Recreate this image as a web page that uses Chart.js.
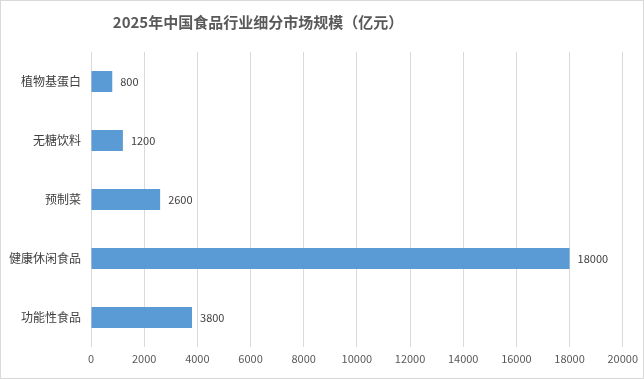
<!DOCTYPE html>
<html><head><meta charset="utf-8">
<script src="https://cdn.jsdelivr.net/npm/chart.js@4/dist/chart.umd.min.js"></script>
<style>
html,body{margin:0;padding:0;background:#fff;}
#wrap{position:absolute;left:0;top:0;width:644px;height:379px;box-sizing:border-box;border:1px solid #d9d9d9;background:#fff;}
#box{position:absolute;left:0;top:0;width:642px;height:377px;}
</style></head>
<body>
<div id="wrap"><div id="box"><canvas id="c"></canvas></div></div>
<script>
const categories = ['植物基蛋白', '无糖饮料', '预制菜', '健康休闲食品', '功能性食品'];
const values = [800, 1200, 2600, 18000, 3800];
const xTicks = [0, 2000, 4000, 6000, 8000, 10000, 12000, 14000, 16000, 18000, 20000];
const titleText = '2025年中国食品行业细分市场规模（亿元）';

const FONT = "'Noto Sans CJK SC', 'Noto Sans', sans-serif";

const labelPlugin = {
  id: 'barLabels',
  afterDatasetsDraw(chart) {
    const ctx = chart.ctx;
    const meta = chart.getDatasetMeta(0);
    ctx.save();
    ctx.font = '11px ' + FONT;
    ctx.fillStyle = '#404040';
    ctx.textAlign = 'left';
    ctx.textBaseline = 'middle';
    meta.data.forEach((bar, i) => {
      ctx.fillText(String(values[i]), bar.x + 8, bar.y);
    });
    ctx.restore();
  }
};

const titlePlugin = {
  id: 'customTitle',
  afterDraw(chart) {
    const ctx = chart.ctx;
    ctx.save();
    ctx.font = 'bold 15px ' + FONT;
    ctx.fillStyle = '#595959';
    ctx.textAlign = 'center';
    ctx.textBaseline = 'middle';
    ctx.fillText(titleText, 257, 21.5);
    ctx.restore();
  }
};

new Chart(document.getElementById('c'), {
  type: 'bar',
  data: {
    labels: categories,
    datasets: [{
      data: values,
      backgroundColor: '#5b9bd5',
      borderWidth: 0,
      barPercentage: 0.6,
      categoryPercentage: 0.6
    }]
  },
  options: {
    indexAxis: 'y',
    responsive: true,
    maintainAspectRatio: false,
    animation: false,
    layout: { padding: { left: 0, right: 20, top: 51, bottom: 0 } },
    plugins: {
      legend: { display: false },
      tooltip: { enabled: false },
      title: { display: false }
    },
    scales: {
      x: {
        min: 0, max: 20000,
        afterBuildTicks(axis) { axis.ticks = xTicks.map(v => ({ value: v })); },
        afterFit(axis) { axis.height = 31; },
        grid: { color: '#d9d9d9', drawTicks: false, lineWidth: 1 },
        border: { display: false },
        ticks: {
          color: '#595959', padding: 5, font: { family: FONT, size: 11 },
          callback: (v) => String(v)
        }
      },
      y: {
        afterFit(axis) { axis.width = 90; },
        grid: { display: false, drawTicks: false },
        border: { display: false },
        ticks: { color: '#404040', padding: 10, font: { family: FONT, size: 12 } }
      }
    }
  },
  plugins: [labelPlugin, titlePlugin]
});
</script>
</body></html>
